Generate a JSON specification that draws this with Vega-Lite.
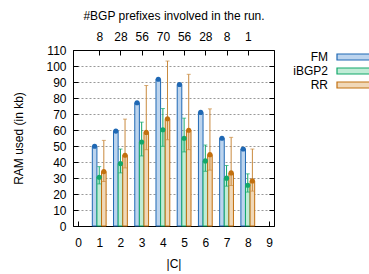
{
  "$schema": "https://vega.github.io/schema/vega-lite/v6.json",
  "width": 201,
  "height": 176,
  "autosize": {"type": "none"},
  "padding": {"left": 73, "top": 50, "right": 95, "bottom": 48},
  "background": "white",
  "config": {
    "font": "Liberation Sans",
    "view": {"stroke": "black", "strokeWidth": 1},
    "axis": {
      "labelFont": "Liberation Sans",
      "titleFont": "Liberation Sans",
      "labelFontSize": 12,
      "titleFontSize": 12,
      "titleFontWeight": "normal",
      "labelColor": "black",
      "titleColor": "black",
      "domainColor": "black",
      "tickColor": "black",
      "tickSize": -5,
      "grid": false
    },
    "legend": {"labelFont": "Liberation Sans", "labelFontSize": 12, "labelColor": "black"}
  },
  "data": {
    "values": [
      {"c": 1, "s": "FM", "v": 49.8, "lo": 49.3, "hi": 50.3},
      {"c": 2, "s": "FM", "v": 59.3, "lo": 58.8, "hi": 59.8},
      {"c": 3, "s": "FM", "v": 77.0, "lo": 76.5, "hi": 77.5},
      {"c": 4, "s": "FM", "v": 91.7, "lo": 91.2, "hi": 92.2},
      {"c": 5, "s": "FM", "v": 88.4, "lo": 87.9, "hi": 88.9},
      {"c": 6, "s": "FM", "v": 71.0, "lo": 70.5, "hi": 71.5},
      {"c": 7, "s": "FM", "v": 54.8, "lo": 54.3, "hi": 55.3},
      {"c": 8, "s": "FM", "v": 48.1, "lo": 47.6, "hi": 48.6},
      {"c": 1, "s": "iBGP2", "v": 30.5, "lo": 26.3, "hi": 37.1},
      {"c": 2, "s": "iBGP2", "v": 39.0, "lo": 33.2, "hi": 48.1},
      {"c": 3, "s": "iBGP2", "v": 52.5, "lo": 43.8, "hi": 64.9},
      {"c": 4, "s": "iBGP2", "v": 60.2, "lo": 49.8, "hi": 73.4},
      {"c": 5, "s": "iBGP2", "v": 54.8, "lo": 46.3, "hi": 67.4},
      {"c": 6, "s": "iBGP2", "v": 40.7, "lo": 34.2, "hi": 50.6},
      {"c": 7, "s": "iBGP2", "v": 29.9, "lo": 24.9, "hi": 37.8},
      {"c": 8, "s": "iBGP2", "v": 25.5, "lo": 21.2, "hi": 32.6},
      {"c": 1, "s": "RR", "v": 34.0, "lo": 27.8, "hi": 53.5},
      {"c": 2, "s": "RR", "v": 44.2, "lo": 36.3, "hi": 66.8},
      {"c": 3, "s": "RR", "v": 58.5, "lo": 47.7, "hi": 87.8},
      {"c": 4, "s": "RR", "v": 67.0, "lo": 53.9, "hi": 103.1},
      {"c": 5, "s": "RR", "v": 59.8, "lo": 47.7, "hi": 94.8},
      {"c": 6, "s": "RR", "v": 44.6, "lo": 34.9, "hi": 73.2},
      {"c": 7, "s": "RR", "v": 33.2, "lo": 25.3, "hi": 55.4},
      {"c": 8, "s": "RR", "v": 28.2, "lo": 21.8, "hi": 48.1}
    ]
  },
  "resolve": {"axis": {"x": "independent", "y": "independent"}},
  "layer": [
    {
      "mark": {"type": "rule", "opacity": 0},
      "encoding": {
        "x": {"field": "c", "type": "quantitative", "scale": {"domain": [0, 9], "nice": false},
              "axis": {"values": [0,1,2,3,4,5,6,7,8,9], "title": "|C|", "labelPadding": 16, "titlePadding": 10, "labelFlush": false}},
        "y": {"field": "v", "type": "quantitative", "scale": {"domain": [0, 110], "nice": false},
              "axis": {"values": [0,10,20,30,40,50,60,70,80,90,100,110], "title": "RAM used (in kb)", "labelPadding": 12, "titlePadding": 20,
                       "grid": true, "gridColor": "#999999", "gridDash": [2, 2], "gridWidth": 1, "labelFlush": false}}
      }
    },
    {
      "mark": {"type": "rule", "opacity": 0},
      "encoding": {
        "x": {"field": "c", "type": "quantitative",
              "axis": {"orient": "top", "values": [1,2,3,4,5,6,7,8], "title": "#BGP prefixes involved in the run.",
                       "labelExpr": "['','8','28','56','70','56','28','8','1'][datum.value]", "labelPadding": 12, "titlePadding": 8}},
        "y": {"field": "v", "type": "quantitative",
              "axis": {"orient": "right", "values": [10,20,30,40,50,60,70,80,90,100], "labels": false, "title": null}}
      }
    },
    {
      "transform": [{"filter": "datum.s == 'FM'"}],
      "mark": {"type": "bar", "width": 4.6, "xOffset": -4.6, "strokeWidth": 1},
      "encoding": {
        "x": {"field": "c", "type": "quantitative", "axis": null},
        "y": {"field": "v", "type": "quantitative", "axis": null},
        "fill": {"field": "s", "type": "nominal", "scale": {"domain": ["FM", "iBGP2", "RR"], "range": ["#bcd4ee", "#c0ecd6", "#f0d8b8"]},
                 "legend": {"orient": "none", "legendX": 275, "legendY": 1, "title": null, "symbolType": "M-3.4,-0.6L3.4,-0.6L3.4,0.6L-3.4,0.6Z", "symbolSize": 100, "symbolStrokeWidth": 1.2, "rowPadding": 2,
                            "encode": {"labels": {"update": {"x": {"value": -20}, "align": {"value": "right"}}}}}},
        "stroke": {"field": "s", "type": "nominal", "scale": {"domain": ["FM", "iBGP2", "RR"], "range": ["#1f68b4", "#12a86a", "#c2700f"]},
                 "legend": {"orient": "none", "legendX": 275, "legendY": 1, "title": null, "symbolType": "M-3.4,-0.6L3.4,-0.6L3.4,0.6L-3.4,0.6Z", "symbolSize": 100, "symbolStrokeWidth": 1.2, "rowPadding": 2,
                            "encode": {"labels": {"update": {"x": {"value": -20}, "align": {"value": "right"}}}}}}
      }
    },
    {
      "transform": [{"filter": "datum.s == 'iBGP2'"}],
      "mark": {"type": "bar", "width": 4.6, "xOffset": 0, "strokeWidth": 1},
      "encoding": {
        "x": {"field": "c", "type": "quantitative", "axis": null},
        "y": {"field": "v", "type": "quantitative", "axis": null},
        "fill": {"field": "s", "type": "nominal"},
        "stroke": {"field": "s", "type": "nominal"}
      }
    },
    {
      "transform": [{"filter": "datum.s == 'RR'"}],
      "mark": {"type": "bar", "width": 4.6, "xOffset": 4.6, "strokeWidth": 1},
      "encoding": {
        "x": {"field": "c", "type": "quantitative", "axis": null},
        "y": {"field": "v", "type": "quantitative", "axis": null},
        "fill": {"field": "s", "type": "nominal"},
        "stroke": {"field": "s", "type": "nominal"}
      }
    },
    {
      "transform": [{"filter": "datum.s == 'FM'"}],
      "layer": [
        {"mark": {"type": "rule", "xOffset": -4.6, "color": "#1f68b4", "strokeWidth": 1},
         "encoding": {"x": {"field": "c", "type": "quantitative", "axis": null}, "y": {"field": "lo", "type": "quantitative", "axis": null}, "y2": {"field": "hi"}}},
        {"mark": {"type": "tick", "orient": "horizontal", "xOffset": -4.6, "color": "#1f68b4", "size": 4, "thickness": 1},
         "encoding": {"x": {"field": "c", "type": "quantitative", "axis": null}, "y": {"field": "hi", "type": "quantitative", "axis": null}}},
        {"mark": {"type": "point", "filled": true, "opacity": 1, "xOffset": -4.6, "color": "#1f68b4", "size": 26},
         "encoding": {"x": {"field": "c", "type": "quantitative", "axis": null}, "y": {"field": "v", "type": "quantitative", "axis": null}}}
      ]
    },
    {
      "transform": [{"filter": "datum.s == 'iBGP2'"}],
      "layer": [
        {"mark": {"type": "rule", "xOffset": 0, "color": "#12a86a", "strokeWidth": 1},
         "encoding": {"x": {"field": "c", "type": "quantitative", "axis": null}, "y": {"field": "lo", "type": "quantitative", "axis": null}, "y2": {"field": "hi"}}},
        {"mark": {"type": "tick", "orient": "horizontal", "xOffset": 0, "color": "#12a86a", "size": 4, "thickness": 1},
         "encoding": {"x": {"field": "c", "type": "quantitative", "axis": null}, "y": {"field": "lo", "type": "quantitative", "axis": null}}},
        {"mark": {"type": "tick", "orient": "horizontal", "xOffset": 0, "color": "#12a86a", "size": 4, "thickness": 1},
         "encoding": {"x": {"field": "c", "type": "quantitative", "axis": null}, "y": {"field": "hi", "type": "quantitative", "axis": null}}},
        {"mark": {"type": "point", "filled": true, "opacity": 1, "xOffset": 0, "color": "#12a86a", "size": 26},
         "encoding": {"x": {"field": "c", "type": "quantitative", "axis": null}, "y": {"field": "v", "type": "quantitative", "axis": null}}}
      ]
    },
    {
      "transform": [{"filter": "datum.s == 'RR'"}],
      "layer": [
        {"mark": {"type": "rule", "xOffset": 4.6, "color": "#c98a3e", "strokeWidth": 1},
         "encoding": {"x": {"field": "c", "type": "quantitative", "axis": null}, "y": {"field": "lo", "type": "quantitative", "axis": null}, "y2": {"field": "hi"}}},
        {"mark": {"type": "tick", "orient": "horizontal", "xOffset": 4.6, "color": "#c98a3e", "size": 4, "thickness": 1},
         "encoding": {"x": {"field": "c", "type": "quantitative", "axis": null}, "y": {"field": "lo", "type": "quantitative", "axis": null}}},
        {"mark": {"type": "tick", "orient": "horizontal", "xOffset": 4.6, "color": "#c98a3e", "size": 4, "thickness": 1},
         "encoding": {"x": {"field": "c", "type": "quantitative", "axis": null}, "y": {"field": "hi", "type": "quantitative", "axis": null}}},
        {"mark": {"type": "point", "filled": true, "opacity": 1, "xOffset": 4.6, "color": "#c2700f", "size": 26},
         "encoding": {"x": {"field": "c", "type": "quantitative", "axis": null}, "y": {"field": "v", "type": "quantitative", "axis": null}}}
      ]
    }
  ]
}
